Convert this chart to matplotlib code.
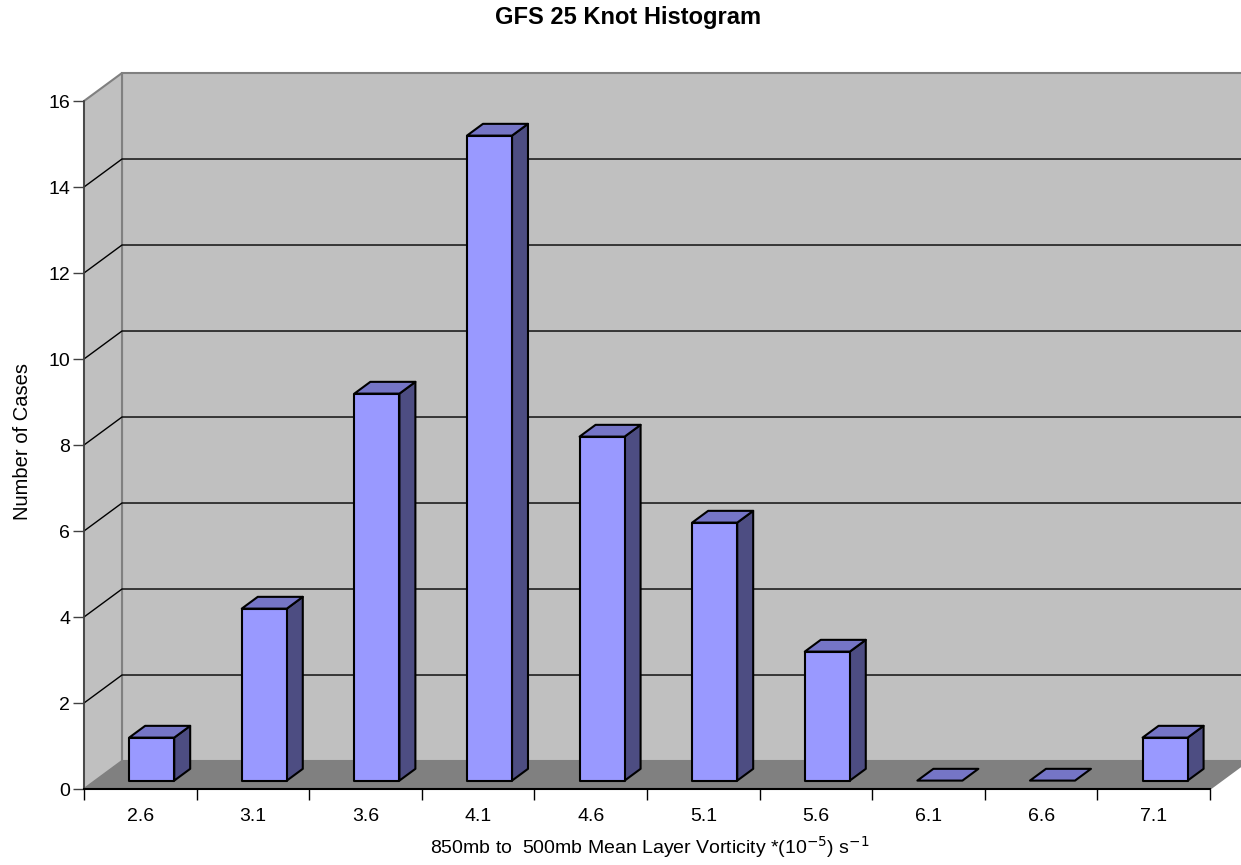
import matplotlib.pyplot as plt
from matplotlib.patches import Polygon

plt.rcParams['font.family'] = ['Liberation Sans', 'DejaVu Sans']

# Данные гистограммы
categories = ["2.6", "3.1", "3.6", "4.1", "4.6", "5.1", "5.6", "6.1", "6.6", "7.1"]
counts = [1, 4, 9, 15, 8, 6, 3, 0, 0, 1]
y_ticks = [0, 2, 4, 6, 8, 10, 12, 14, 16]

# Цвета в стиле Excel
front_col = "#9999FF"
top_col = "#7575C6"
side_col = "#4D4D82"
wall_col = "#C0C0C0"
floor_col = "#808080"
edge_gray = "#808080"

n = len(categories)
ymax = 16
# смещение глубины (в единицах данных)
ddx = 0.3375
ddy = 0.651
f0, f1 = 0.3, 0.72   # положение столбца по глубине
bw = 0.40            # ширина столбца

fig = plt.figure(figsize=(12.41, 8.65), dpi=100)
ax = fig.add_axes([84 / 1241, 76 / 865, 1126 / 1241, 688 / 865])
ax.set_xlim(0, n)
ax.set_ylim(0, ymax)
ax.patch.set_visible(False)
for s in ["top", "right"]:
    ax.spines[s].set_visible(False)

# задняя стенка, левая стенка, пол
ax.add_patch(Polygon([(ddx, ddy), (n + ddx, ddy), (n + ddx, ymax + ddy), (ddx, ymax + ddy)],
                     closed=True, fc=wall_col, ec=edge_gray, lw=1.5, clip_on=False, zorder=1))
ax.add_patch(Polygon([(0, 0), (ddx, ddy), (ddx, ymax + ddy), (0, ymax)],
                     closed=True, fc=wall_col, ec=edge_gray, lw=1.5, clip_on=False, zorder=1))
ax.add_patch(Polygon([(0, 0), (n, 0), (n + ddx, ddy), (ddx, ddy)],
                     closed=True, fc=floor_col, ec="none", clip_on=False, zorder=2))
ax.plot([n, n + ddx], [0, ddy], color=edge_gray, lw=1.2, clip_on=False, zorder=2)

# линии сетки
for v in y_ticks[1:-1]:
    ax.plot([0, ddx, n + ddx], [v, v + ddy, v + ddy], color="black", lw=1,
            clip_on=False, zorder=1.5)

# столбцы
for i, v in enumerate(counts):
    c = i + 0.5
    x0 = c - bw / 2 + f0 * ddx
    x1 = c + bw / 2 + f0 * ddx
    b0 = f0 * ddy
    ox = (f1 - f0) * ddx
    oy = (f1 - f0) * ddy
    kw = dict(closed=True, ec="black", lw=1.5, clip_on=False, joinstyle="round", zorder=3)
    if v > 0:
        ax.add_patch(Polygon([(x1, b0), (x1 + ox, b0 + oy), (x1 + ox, b0 + v + oy), (x1, b0 + v)],
                             fc=side_col, **kw))
        ax.add_patch(Polygon([(x0, b0), (x1, b0), (x1, b0 + v), (x0, b0 + v)],
                             fc=front_col, **kw))
    ax.add_patch(Polygon([(x0, b0 + v), (x1, b0 + v), (x1 + ox, b0 + v + oy), (x0 + ox, b0 + v + oy)],
                         fc=top_col, **kw))

# оси
ax.spines["left"].set_color("#404040")
ax.spines["left"].set_linewidth(1.2)
ax.spines["bottom"].set_color("black")
ax.spines["bottom"].set_linewidth(1.5)
ax.spines["left"].set_zorder(4)
ax.spines["bottom"].set_zorder(4)

ax.set_yticks(y_ticks)
ax.tick_params(axis="y", length=8, width=1, color="#404040", labelsize=14, pad=2)
ax.set_xticks(range(n + 1))
ax.set_xticklabels([])
ax.set_xticks([i + 0.5 for i in range(n)], minor=True)
ax.set_xticklabels(categories, minor=True)
ax.tick_params(axis="x", which="major", length=8, width=1, color="black")
ax.tick_params(axis="x", which="minor", length=0, labelsize=14, pad=14)

fig.text(628 / 1241, 1 - 24 / 865, "GFS 25 Knot Histogram", ha="center", va="baseline",
         fontsize=17, fontweight="bold")
fig.text(23 / 1241, 1 - 441 / 865, "Number of Cases", rotation=90,
         ha="center", va="center", fontsize=14.5)
fig.text(650 / 1241, 1 - 854 / 865, "850mb to  500mb Mean Layer Vorticity *(10$^{-5}$) s$^{-1}$",
         ha="center", va="baseline", fontsize=14)

fig.savefig("out.png", dpi=100)
